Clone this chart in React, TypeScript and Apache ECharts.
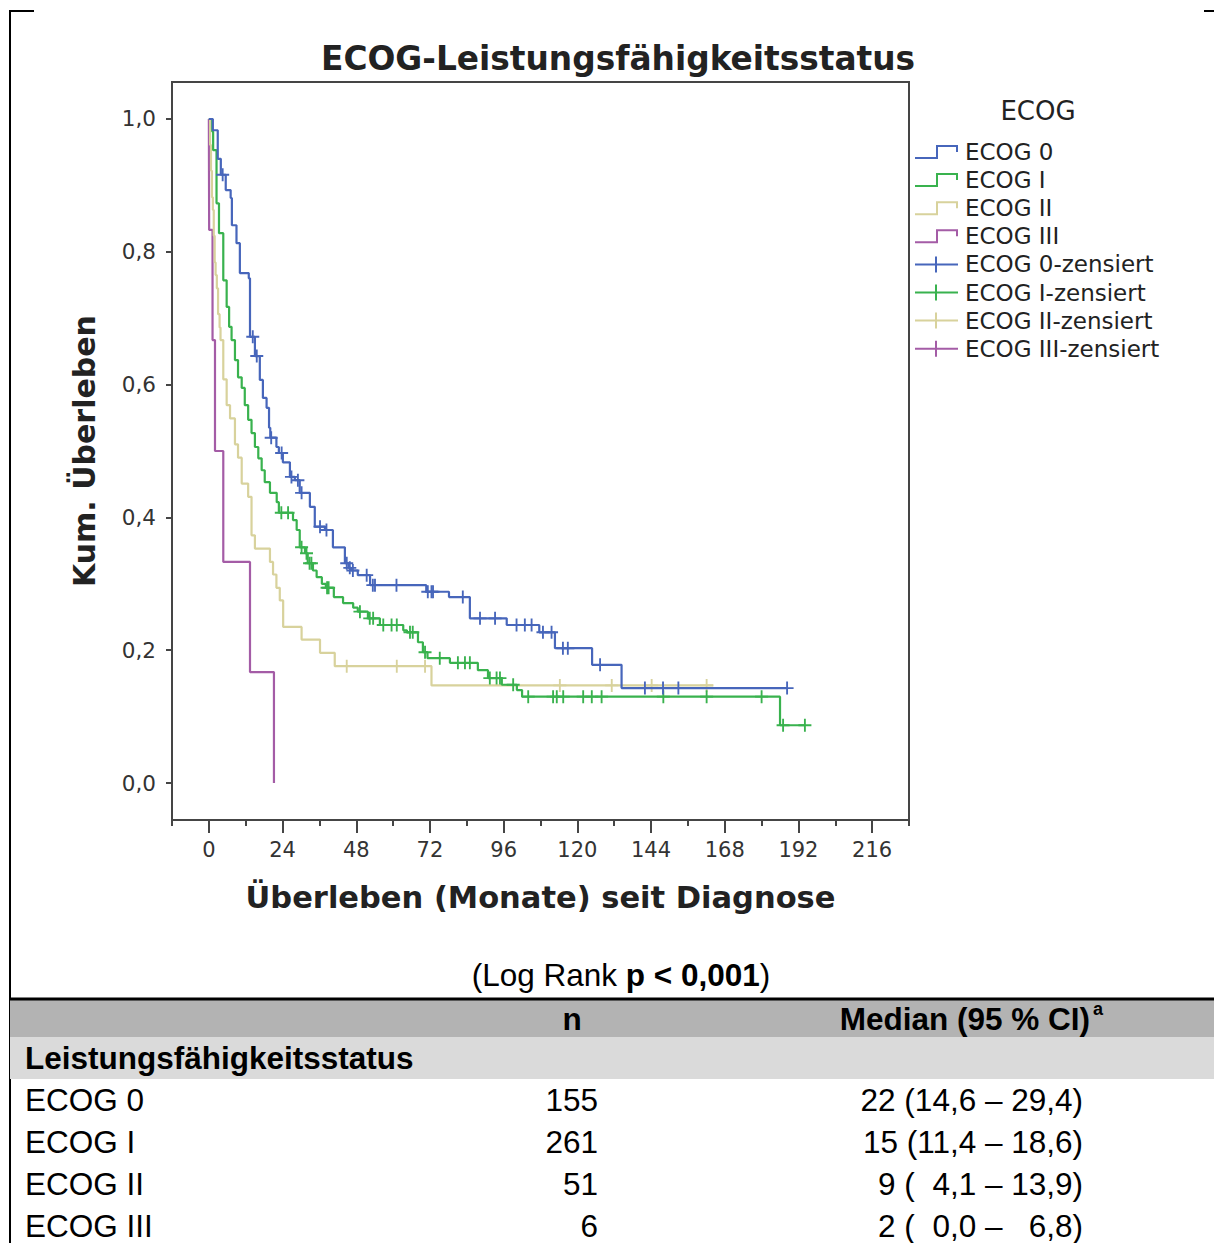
import React, { useEffect, useRef } from "react";
import * as echarts from "echarts";

// ---------- data ----------
const seriesNames = ["ECOG 0", "ECOG I", "ECOG II", "ECOG III"];
const censoredNames = ["ECOG 0-zensiert", "ECOG I-zensiert", "ECOG II-zensiert", "ECOG III-zensiert"];
const seriesColors = ["#4766bb", "#39b24e", "#d8d29c", "#a45ca6"];

// [month, cumulative survival after the event]
const ecog0Steps = [
  [0, 1.0], [1.3, 0.983], [2.9, 0.94], [3.9, 0.916], [5.5, 0.893], [7.1, 0.881], [7.5, 0.84],
  [9.0, 0.813], [10.1, 0.768], [13.0, 0.76], [13.4, 0.672], [15.0, 0.643], [16.6, 0.607],
  [17.6, 0.58], [18.8, 0.565], [19.6, 0.535], [20.0, 0.52], [22.0, 0.506], [22.8, 0.497],
  [24.1, 0.483], [26.4, 0.461], [28.0, 0.456], [29.6, 0.437], [32.9, 0.416], [34.5, 0.386],
  [37.8, 0.381], [40.4, 0.355], [44.3, 0.331], [45.5, 0.324], [46.3, 0.32], [48.5, 0.313],
  [52.5, 0.298], [70.8, 0.288], [78.2, 0.28], [85.0, 0.248], [97.0, 0.238], [107.6, 0.227],
  [112.7, 0.203], [124.8, 0.178], [134.4, 0.143],
];
const ecog0Censored = [
  4.5, 14.3, 15.6, 20.3, 23.7, 26.9, 29.0, 30.2, 36.2, 38.3, 44.9, 45.9, 46.9, 51.4, 53.4, 54.1,
  61.1, 71.3, 72.5, 73.0, 82.7, 88.3, 93.2, 100.2, 102.9, 105.1, 108.8, 111.6, 115.3, 116.9,
  127.4, 142.0, 147.9, 152.9, 188.3,
];
const ecog0End = 188.3;

const ecog1Steps = [
  [0, 1.0], [1.1, 0.981], [1.4, 0.953], [2.5, 0.873], [3.3, 0.828], [4.7, 0.757], [5.8, 0.717],
  [6.6, 0.687], [7.4, 0.667], [8.5, 0.637], [9.5, 0.611], [10.7, 0.595], [11.7, 0.569],
  [12.8, 0.547], [13.9, 0.527], [15.0, 0.506], [16.1, 0.489], [17.2, 0.471], [18.2, 0.453],
  [19.9, 0.437], [22.1, 0.423], [22.8, 0.407], [27.4, 0.396], [28.6, 0.381], [29.6, 0.355],
  [31.3, 0.346], [32.2, 0.331], [33.9, 0.32], [35.1, 0.31], [36.8, 0.3], [38.1, 0.294],
  [40.7, 0.28], [43.7, 0.271], [47.0, 0.264], [48.5, 0.258], [51.8, 0.248], [55.7, 0.238],
  [63.3, 0.23], [64.5, 0.227], [68.1, 0.212], [69.7, 0.197], [71.2, 0.188], [78.5, 0.181],
  [87.6, 0.17], [90.9, 0.158], [95.4, 0.148], [100.3, 0.14], [102.0, 0.13], [186.0, 0.087],
];
const ecog1Censored = [
  23.6, 25.8, 30.2, 31.8, 32.8, 33.4, 38.5, 39.0, 49.2, 52.4, 53.5, 56.8, 59.5, 61.2, 65.5,
  66.4, 70.4, 75.2, 81.1, 83.4, 85.0, 91.5, 93.7, 94.8, 99.1, 104.0, 112.1, 113.3, 115.4,
  121.9, 124.7, 127.9, 148.0, 162.1, 180.0, 187.0, 194.1,
];
const ecog1End = 194.1;

const ecog2Steps = [
  [0, 1.0], [0.4, 0.961], [0.7, 0.922], [1.0, 0.882], [1.3, 0.863], [1.6, 0.824], [1.9, 0.784],
  [2.2, 0.765], [2.6, 0.745], [3.0, 0.706], [3.5, 0.686], [3.8, 0.667], [4.7, 0.608],
  [5.8, 0.569], [6.9, 0.549], [8.5, 0.51], [9.5, 0.49], [10.7, 0.451], [12.8, 0.431],
  [13.9, 0.373], [15.0, 0.353], [19.9, 0.333], [20.9, 0.314], [22.0, 0.294], [23.1, 0.275],
  [24.2, 0.235], [30.2, 0.216], [36.2, 0.196], [41.0, 0.176], [72.5, 0.147],
];
const ecog2Censored = [44.9, 61.2, 70.4, 114.3, 131.2, 144.2, 162.1];
const ecog2End = 164.3;

const ecog3Steps = [
  [0, 1.0], [0.1, 0.833], [1.2, 0.667], [2.0, 0.5], [4.7, 0.333], [13.4, 0.167], [21.2, 0.0],
];
const ecog3Censored: number[] = [];
const ecog3End = 21.2;

const allSteps = [ecog0Steps, ecog1Steps, ecog2Steps, ecog3Steps];
const allCensored = [ecog0Censored, ecog1Censored, ecog2Censored, ecog3Censored];
const allEnds = [ecog0End, ecog1End, ecog2End, ecog3End];

const xTickValues = [0, 24, 48, 72, 96, 120, 144, 168, 192, 216];
const xMinorTickValues = [-12, 12, 36, 60, 84, 108, 132, 156, 180, 204, 228];
const yTickValues = [0, 0.2, 0.4, 0.6, 0.8, 1.0];

// table
const tableGroup = "Leistungsfähigkeitsstatus";
const tableRowNames = ["ECOG 0", "ECOG I", "ECOG II", "ECOG III"];
const tableN = [155, 261, 51, 6];
const tableMedian = [22, 15, 9, 2];
const tableCiLow = [14.6, 11.4, 4.1, 0.0];
const tableCiHigh = [29.4, 18.6, 13.9, 6.8];
const logRankP = "p < 0,001";

// ---------- helpers ----------
function lineData(steps: number[][], end: number) {
  const d = steps.map((p) => [p[0], p[1]]);
  const last = steps[steps.length - 1];
  if (end > last[0]) d.push([end, last[1]]);
  return d;
}
function survivalAt(steps: number[][], t: number) {
  let s = steps[0][1];
  for (const p of steps) {
    if (p[0] <= t) s = p[1];
    else break;
  }
  return s;
}
const fmt = (v: number) => v.toFixed(1).replace(".", ",");
const pad = (s: string, n: number) => "\u2007".repeat(Math.max(0, n - s.length)) + s;

const CHART_FONT = "DejaVu Sans";
const TABLE_FONT = "Liberation Sans, Arial, sans-serif";
const TABLE_SIZE = 31.5;
const AXIS_COLOR = "#454545";
const TEXT_COLOR = "#222";
const PLUS = "path://M6,0L8,0L8,14L6,14Z M0,6L14,6L14,8L0,8Z";

export default function App() {
  const ref = useRef<HTMLDivElement>(null);

  useEffect(() => {
    if (!ref.current) return;
    const chart = echarts.init(ref.current, undefined, { renderer: "svg" });

    const lineSeries = seriesNames.map((name, i) => ({
      name,
      type: "line",
      step: "end",
      data: lineData(allSteps[i], allEnds[i]),
      showSymbol: false,
      symbol: "none",
      silent: true,
      lineStyle: { color: seriesColors[i], width: 2.2 },
      itemStyle: { color: seriesColors[i] },
      z: 2 + (3 - i),
    }));
    const censorSeries = censoredNames.map((name, i) => ({
      name,
      type: "scatter",
      data: allCensored[i].map((t) => [t, survivalAt(allSteps[i], t)]),
      symbol: PLUS,
      symbolSize: 13,
      silent: true,
      itemStyle: { color: seriesColors[i], opacity: 1 },
      z: 3 + (3 - i),
    }));

    // legend (graphic)
    const legendEls: any[] = [
      {
        type: "text",
        x: 1038,
        y: 111,
        style: {
          text: "ECOG",
          fontFamily: CHART_FONT,
          fontSize: 26,
          fill: TEXT_COLOR,
          align: "center",
          textAlign: "center",
          verticalAlign: "middle",
          textVerticalAlign: "middle",
        },
      },
    ];
    const legendY0 = 152;
    const legendDy = 28.1;
    seriesNames.forEach((name, i) => {
      const y = legendY0 + i * legendDy;
      legendEls.push({
        type: "polyline",
        shape: { points: [[915, y + 6], [937, y + 6], [937, y - 6], [957, y - 6], [957, y]] },
        style: { stroke: seriesColors[i], lineWidth: 2, fill: "none" },
      });
      legendEls.push({
        type: "text",
        x: 965,
        y,
        style: {
          text: name,
          fontFamily: CHART_FONT,
          fontSize: 23,
          fill: TEXT_COLOR,
          verticalAlign: "middle",
          textVerticalAlign: "middle",
        },
      });
    });
    censoredNames.forEach((name, i) => {
      const y = legendY0 + (i + 4) * legendDy;
      legendEls.push({
        type: "line",
        shape: { x1: 915, y1: y, x2: 958, y2: y },
        style: { stroke: seriesColors[i], lineWidth: 2 },
      });
      legendEls.push({
        type: "line",
        shape: { x1: 936, y1: y - 8, x2: 936, y2: y + 8 },
        style: { stroke: seriesColors[i], lineWidth: 2 },
      });
      legendEls.push({
        type: "text",
        x: 965,
        y,
        style: {
          text: name,
          fontFamily: CHART_FONT,
          fontSize: 23,
          fill: TEXT_COLOR,
          verticalAlign: "middle",
          textVerticalAlign: "middle",
        },
      });
    });

    // frame marks + table (graphic)
    const tableEls: any[] = [
      { type: "line", shape: { x1: 10, y1: 11, x2: 10, y2: 1243 }, style: { stroke: "#000", lineWidth: 2 } },
      { type: "line", shape: { x1: 9, y1: 11, x2: 34, y2: 11 }, style: { stroke: "#000", lineWidth: 2 } },
      { type: "line", shape: { x1: 1204, y1: 11, x2: 1214, y2: 11 }, style: { stroke: "#000", lineWidth: 2 } },
      {
        type: "text",
        x: 621,
        y: 975,
        style: {
          text: "{n|(Log Rank }{b|" + logRankP + "}{n|)}",
          align: "center",
          textAlign: "center",
          verticalAlign: "middle",
          textVerticalAlign: "middle",
          rich: {
            n: { fontFamily: TABLE_FONT, fontSize: TABLE_SIZE, fill: "#000", color: "#000" },
            b: { fontFamily: TABLE_FONT, fontSize: TABLE_SIZE, fontWeight: "bold", fill: "#000", color: "#000" },
          },
        },
      },
      { type: "rect", shape: { x: 10, y: 999, width: 1204, height: 38 }, style: { fill: "#b3b3b3" } },
      { type: "rect", shape: { x: 10, y: 1037, width: 1204, height: 42 }, style: { fill: "#dadada" } },
      { type: "line", shape: { x1: 10, y1: 999, x2: 1214, y2: 999 }, style: { stroke: "#000", lineWidth: 3 } },
      {
        type: "text",
        x: 572,
        y: 1019,
        style: {
          text: "n",
          fontFamily: TABLE_FONT,
          fontSize: TABLE_SIZE,
          fontWeight: "bold",
          fill: "#000",
          align: "center",
          textAlign: "center",
          verticalAlign: "middle",
          textVerticalAlign: "middle",
        },
      },
      {
        type: "text",
        x: 1090,
        y: 1019,
        style: {
          text: "Median (95 % CI)",
          fontFamily: TABLE_FONT,
          fontSize: TABLE_SIZE,
          fontWeight: "bold",
          fill: "#000",
          align: "right",
          textAlign: "right",
          verticalAlign: "middle",
          textVerticalAlign: "middle",
        },
      },
      {
        type: "text",
        x: 1093,
        y: 1009,
        style: {
          text: "a",
          fontFamily: TABLE_FONT,
          fontSize: 18,
          fontWeight: "bold",
          fill: "#000",
          verticalAlign: "middle",
          textVerticalAlign: "middle",
        },
      },
      {
        type: "text",
        x: 25,
        y: 1058,
        style: {
          text: tableGroup,
          fontFamily: TABLE_FONT,
          fontSize: TABLE_SIZE,
          fontWeight: "bold",
          fill: "#000",
          verticalAlign: "middle",
          textVerticalAlign: "middle",
        },
      },
    ];
    tableRowNames.forEach((name, i) => {
      const y = 1100 + i * 42;
      const med =
        pad(String(tableMedian[i]), 2) +
        " (" +
        pad(fmt(tableCiLow[i]), 4) +
        " – " +
        pad(fmt(tableCiHigh[i]), 4) +
        ")";
      const base = {
        fontFamily: TABLE_FONT,
        fontSize: TABLE_SIZE,
        fill: "#000",
        verticalAlign: "middle",
        textVerticalAlign: "middle",
      };
      tableEls.push({ type: "text", x: 25, y, style: { ...base, text: name } });
      tableEls.push({
        type: "text",
        x: 598,
        y,
        style: { ...base, text: String(tableN[i]), align: "right", textAlign: "right" },
      });
      tableEls.push({
        type: "text",
        x: 1083,
        y,
        style: { ...base, text: med, align: "right", textAlign: "right" },
      });
    });

    const option: any = {
      animation: false,
      backgroundColor: "#ffffff",
      title: {
        text: "ECOG-Leistungsfähigkeitsstatus",
        left: 316,
        top: 37,
        textStyle: { fontFamily: CHART_FONT, fontSize: 32.8, fontWeight: "bold", color: TEXT_COLOR },
      },
      legend: { show: false },
      tooltip: { show: false },
      grid: {
        left: 172,
        top: 82,
        width: 737,
        height: 738,
        show: true,
        borderColor: AXIS_COLOR,
        borderWidth: 2,
        backgroundColor: "transparent",
      },
      xAxis: [
        {
          type: "value",
          min: -12,
          max: 228,
          position: "bottom",
          axisLine: { show: true, onZero: false, lineStyle: { color: AXIS_COLOR, width: 2 } },
          axisTick: { show: true, length: 13, customValues: xTickValues, lineStyle: { color: AXIS_COLOR, width: 2 } },
          axisLabel: {
            customValues: xTickValues,
            fontFamily: CHART_FONT,
            fontSize: 21,
            color: "#333",
            margin: 19,
          },
          splitLine: { show: false },
          name: "Überleben (Monate) seit Diagnose",
          nameLocation: "middle",
          nameGap: 62,
          nameTextStyle: { fontFamily: CHART_FONT, fontSize: 30.5, fontWeight: "bold", color: TEXT_COLOR },
        },
        {
          type: "value",
          min: -12,
          max: 228,
          position: "bottom",
          axisLine: { show: false, onZero: false },
          axisTick: { show: true, length: 6, customValues: xMinorTickValues, lineStyle: { color: AXIS_COLOR, width: 2 } },
          axisLabel: { show: false },
          splitLine: { show: false },
        },
      ],
      yAxis: {
        type: "value",
        min: -0.0557,
        max: 1.0557,
        axisLine: { show: true, onZero: false, lineStyle: { color: AXIS_COLOR, width: 2 } },
        axisTick: { show: true, length: 6, customValues: yTickValues, lineStyle: { color: AXIS_COLOR, width: 2 } },
        axisLabel: {
          customValues: yTickValues,
          formatter: (v: number) => fmt(v),
          fontFamily: CHART_FONT,
          fontSize: 21.5,
          color: "#333",
          margin: 16,
        },
        splitLine: { show: false },
        name: "Kum. Überleben",
        nameLocation: "middle",
        nameGap: 73,
        nameRotate: 90,
        nameTextStyle: { fontFamily: CHART_FONT, fontSize: 30, fontWeight: "bold", color: TEXT_COLOR },
      },
      graphic: { elements: [...legendEls, ...tableEls] },
      series: [...lineSeries, ...censorSeries],
    };

    chart.setOption(option);
    return () => chart.dispose();
  }, []);

  return (
    <div
      ref={ref}
      style={{ position: "absolute", left: 0, top: 0, width: 1214, height: 1243, background: "#fff" }}
    />
  );
}
